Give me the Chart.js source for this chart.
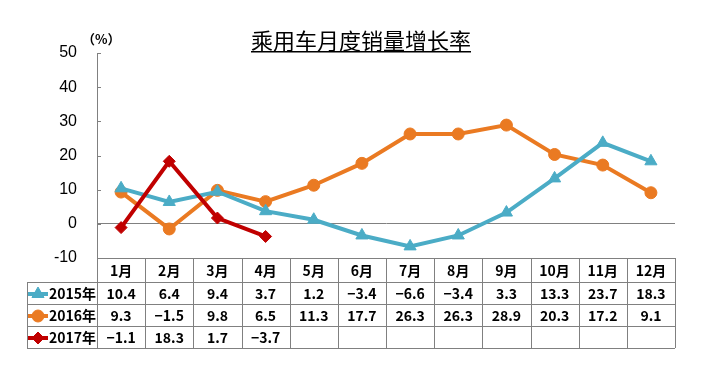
<!DOCTYPE html>
<html>
<head>
<meta charset="utf-8">
<script src="https://cdn.jsdelivr.net/npm/chart.js@4.4.0/dist/chart.umd.min.js"></script>
<style>
  html, body { margin: 0; padding: 0; background: #fff; }
  #wrap { width: 701px; height: 367px; }
</style>
</head>
<body>
<div id="wrap"><canvas id="c" width="701" height="367"></canvas></div>
<script>
// data
const months = ['1月', '2月', '3月', '4月', '5月', '6月', '7月', '8月', '9月', '10月', '11月', '12月'];
const seriesNames = ['2015年', '2016年', '2017年'];
const s2015 = [10.4, 6.4, 9.4, 3.7, 1.2, -3.4, -6.6, -3.4, 3.3, 13.3, 23.7, 18.3];
const s2016 = [9.3, -1.5, 9.8, 6.5, 11.3, 17.7, 26.3, 26.3, 28.9, 20.3, 17.2, 9.1];
const s2017 = [-1.1, 18.3, 1.7, -3.7, null, null, null, null, null, null, null, null];
const yTicks = [-10, 0, 10, 20, 30, 40, 50];

const colors = ['#4BACC6', '#EA7A22', '#C00000'];
const styles = ['triangle', 'circle', 'rectRot'];
const radii = [7, 6, 6];

const cjk = '"Noto Sans CJK SC", "Noto Sans", sans-serif';

function fmt(v) {
    return v === null ? '' : v.toFixed(1).replace('-', '−');
}

// title with underline + (%) label
const titlePlugin = {
    id: 'titlePlugin',
    afterDraw(chart) {
        const ctx = chart.ctx;
        ctx.save();
        ctx.fillStyle = '#000';
        ctx.font = '22px ' + cjk;
        ctx.textAlign = 'center';
        ctx.textBaseline = 'alphabetic';
        const t = '乘用车月度销量增长率';
        const cx = 361;
        ctx.fillText(t, cx, 49);
        const w = ctx.measureText(t).width;
        ctx.fillRect(cx - w / 2, 51, w, 1.5);
        ctx.font = 'bold 13px ' + cjk;
        ctx.textAlign = 'left';
        ctx.fillText('（%）', 82, 44);
        ctx.restore();
    }
};

// inward tick marks on the y axis
const yTickPlugin = {
    id: 'yTickPlugin',
    afterDraw(chart) {
        const ctx = chart.ctx;
        const y = chart.scales.y;
        const left = chart.chartArea.left;
        ctx.save();
        ctx.strokeStyle = '#808080';
        ctx.lineWidth = 1;
        yTicks.forEach(v => {
            const py = Math.round(y.getPixelForValue(v)) + 0.5;
            ctx.beginPath();
            ctx.moveTo(left, py);
            ctx.lineTo(left + 4, py);
            ctx.stroke();
        });
        ctx.restore();
    }
};

// data table under the plot
const tablePlugin = {
    id: 'tablePlugin',
    afterDraw(chart) {
        const ctx = chart.ctx;
        const x = chart.scales.x;
        const colW = x.getPixelForValue(1) - x.getPixelForValue(0);
        const left = x.getPixelForValue(0) - colW / 2;
        const right = left + months.length * colW;
        const top = chart.chartArea.bottom;
        const headH = 24, rowH = 22;
        const legLeft = 27;
        const rowsTop = top + headH;
        const bottom = rowsTop + rowH * seriesNames.length;

        ctx.save();
        ctx.strokeStyle = '#808080';
        ctx.lineWidth = 1;
        const hline = (x0, x1, yy) => {
            yy = Math.round(yy) + 0.5;
            ctx.beginPath(); ctx.moveTo(x0, yy); ctx.lineTo(x1, yy); ctx.stroke();
        };
        const vline = (xx, y0, y1) => {
            xx = Math.round(xx) + 0.5;
            ctx.beginPath(); ctx.moveTo(xx, y0); ctx.lineTo(xx, y1); ctx.stroke();
        };
        hline(left, right, top);
        for (let r = 0; r <= seriesNames.length; r++) hline(legLeft, right, rowsTop + r * rowH);
        vline(legLeft, rowsTop, bottom);
        for (let c = 0; c <= months.length; c++) vline(left + c * colW, top, bottom);

        ctx.fillStyle = '#000';
        ctx.font = 'bold 14px ' + cjk;
        ctx.textAlign = 'center';
        ctx.textBaseline = 'middle';
        months.forEach((m, i) => {
            ctx.fillText(m, x.getPixelForValue(i), top + headH / 2 + 1);
        });

        chart.data.datasets.forEach((ds, r) => {
            const cy = rowsTop + r * rowH + rowH / 2 + 1;
            // legend key
            ctx.strokeStyle = colors[r];
            ctx.lineWidth = 4;
            ctx.beginPath(); ctx.moveTo(legLeft + 1, cy); ctx.lineTo(legLeft + 21, cy); ctx.stroke();
            ctx.fillStyle = colors[r];
            ctx.strokeStyle = colors[r];
            ctx.lineWidth = 1;
            Chart.helpers.drawPoint(ctx, { pointStyle: styles[r], radius: radii[r], rotation: 0, borderWidth: 1 }, legLeft + 11, cy);
            ctx.fillStyle = '#000';
            ctx.textAlign = 'left';
            ctx.fillText(seriesNames[r], legLeft + 22, cy);
            ctx.textAlign = 'center';
            ds.data.forEach((v, i) => {
                ctx.fillText(fmt(v), x.getPixelForValue(i), cy);
            });
        });
        ctx.restore();
    }
};

const seriesData = [s2015, s2016, s2017];
const drawOrder = [1, 2, 0];

new Chart(document.getElementById('c'), {
    type: 'line',
    data: {
        labels: months,
        datasets: seriesNames.map((name, i) => ({
            label: name,
            data: seriesData[i],
            borderColor: colors[i],
            backgroundColor: colors[i],
            borderWidth: 4,
            pointStyle: styles[i],
            pointRadius: radii[i],
            pointBorderWidth: 1,
            pointBorderColor: colors[i],
            pointBackgroundColor: colors[i],
            tension: 0,
            spanGaps: false,
            order: drawOrder[i]
        }))
    },
    options: {
        responsive: false,
        animation: false,
        devicePixelRatio: 1,
        layout: { padding: { left: 37, right: 26, top: 53, bottom: 109 } },
        plugins: {
            legend: { display: false },
            tooltip: { enabled: false },
            title: { display: false }
        },
        scales: {
            x: {
                type: 'category',
                display: false,
                offset: true
            },
            y: {
                min: -10,
                max: 50,
                afterFit(scale) { scale.width = 60; },
                afterBuildTicks(scale) { scale.ticks = yTicks.map(v => ({ value: v })); },
                ticks: {
                    padding: 20,
                    color: '#000',
                    font: { family: '"Liberation Sans", Arial, sans-serif', size: 16 }
                },
                grid: {
                    drawTicks: false,
                    color: ctx => (ctx.tick && ctx.tick.value === 0) ? '#808080' : 'rgba(0,0,0,0)'
                },
                border: { display: true, color: '#808080', width: 1 }
            }
        }
    },
    plugins: [titlePlugin, yTickPlugin, tablePlugin]
});
</script>
</body>
</html>
